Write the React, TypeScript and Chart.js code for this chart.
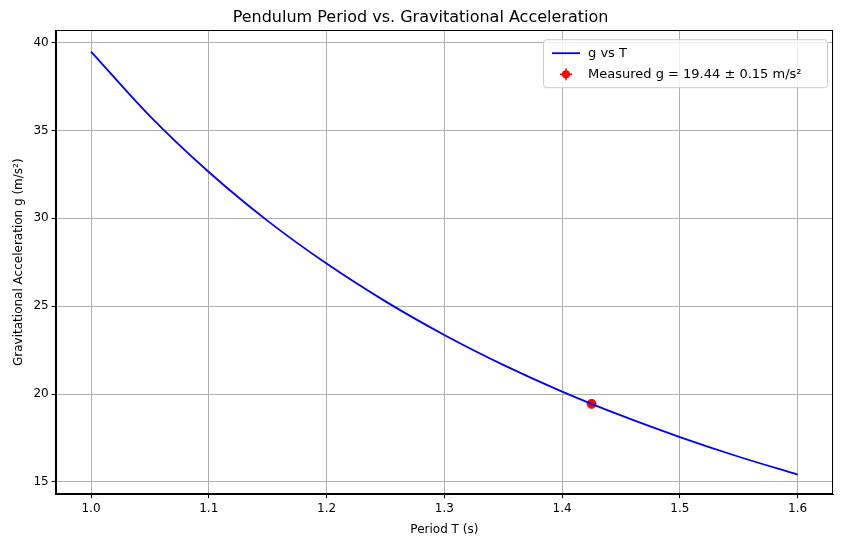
import React, { useEffect, useRef } from "react";
import { Chart, registerables } from "chart.js";
Chart.register(...registerables);

const periods = [1.0, 1.05, 1.1, 1.15, 1.2, 1.25, 1.3, 1.35, 1.4, 1.45, 1.5, 1.55, 1.6];
const gValues = [39.48, 35.81, 32.63, 29.85, 27.42, 25.27, 23.36, 21.66, 20.14, 18.78, 17.55, 16.43, 15.42];
const measuredT = [1.425];
const measuredG = [19.44];
const xTicks = [1.0, 1.1, 1.2, 1.3, 1.4, 1.5, 1.6];
const yTicks = [15, 20, 25, 30, 35, 40];

const FONT = "DejaVu Sans";

const legendPlugin = {
  id: "mplLegend",
  afterDraw(chart: any) {
    const { ctx, chartArea } = chart;
    ctx.save();
    ctx.strokeStyle = "#000";
    ctx.lineWidth = 1;
    ctx.strokeRect(Math.round(chartArea.left) + 0.5, Math.round(chartArea.top) + 0.5,
      Math.round(chartArea.right - chartArea.left) - 1, Math.round(chartArea.bottom - chartArea.top) - 1);
    const w = 284, h = 48;
    const x = chartArea.right - w - 6, y = chartArea.top + 9;
    ctx.fillStyle = "rgba(255,255,255,0.8)";
    ctx.strokeStyle = "#cccccc";
    ctx.beginPath();
    ctx.roundRect(x + 0.5, y + 0.5, w, h, 3);
    ctx.fill();
    ctx.stroke();
    ctx.strokeStyle = "blue";
    ctx.lineWidth = 1.8;
    ctx.beginPath();
    ctx.moveTo(x + 9, y + 14);
    ctx.lineTo(x + 37, y + 14);
    ctx.stroke();
    ctx.fillStyle = "red";
    ctx.strokeStyle = "red";
    ctx.beginPath();
    ctx.arc(x + 23, y + 35, 4, 0, Math.PI * 2);
    ctx.fill();
    ctx.lineWidth = 1.5;
    ctx.beginPath();
    ctx.moveTo(x + 23, y + 29); ctx.lineTo(x + 23, y + 41);
    ctx.moveTo(x + 17, y + 35); ctx.lineTo(x + 29, y + 35);
    ctx.stroke();
    ctx.fillStyle = "#000";
    ctx.font = `13px '${FONT}'`;
    ctx.textBaseline = "middle";
    ctx.fillText("g vs T", x + 45, y + 14);
    ctx.fillText("Measured g = 19.44 ± 0.15 m/s²", x + 45, y + 35);
    ctx.restore();
  },
};

export default function App() {
  const ref = useRef<HTMLCanvasElement>(null);
  useEffect(() => {
    document.body.style.margin = "0";
    const chart = new Chart(ref.current!, {
      type: "line",
      data: {
        datasets: [
          {
            data: periods.map((t, i) => ({ x: t, y: gValues[i] })),
            borderColor: "blue",
            borderWidth: 1.8,
            pointRadius: 0,
            cubicInterpolationMode: "monotone",
          },
          {
            data: measuredT.map((t, i) => ({ x: t, y: measuredG[i] })),
            borderColor: "red",
            backgroundColor: "red",
            showLine: false,
            pointRadius: 4.5,
          },
        ],
      },
      options: {
        responsive: false,
        animation: false,
        layout: { padding: { left: 8, right: 8, top: 0, bottom: 6 } },
        plugins: {
          legend: { display: false },
          tooltip: { enabled: false },
          title: {
            display: true,
            text: "Pendulum Period vs. Gravitational Acceleration",
            color: "#000",
            font: { family: FONT, size: 16, weight: "normal" },
            padding: { top: 8, bottom: 3 },
          },
        },
        scales: {
          x: {
            type: "linear",
            min: 0.97,
            max: 1.63,
            afterBuildTicks: (s: any) => { s.ticks = xTicks.map((v) => ({ value: v })); },
            ticks: { color: "#000", font: { family: FONT, size: 12 }, callback: (v: any) => Number(v).toFixed(1), maxRotation: 0 },
            grid: { color: "#b0b0b0", tickColor: "#000", tickLength: 4 },
            border: { color: "#000" },
            title: { display: true, text: "Period T (s)", color: "#000", font: { family: FONT, size: 12 } },
          },
          y: {
            min: 14.3,
            max: 40.7,
            afterBuildTicks: (s: any) => { s.ticks = yTicks.map((v) => ({ value: v })); },
            ticks: { color: "#000", font: { family: FONT, size: 12 } },
            grid: { color: "#b0b0b0", tickColor: "#000", tickLength: 4 },
            border: { color: "#000" },
            title: { display: true, text: "Gravitational Acceleration g (m/s²)", color: "#000", font: { family: FONT, size: 12 } },
          },
        },
      },
      plugins: [legendPlugin],
    } as any);
    return () => chart.destroy();
  }, []);
  return <canvas ref={ref} width={841} height={547} style={{ display: "block" }} />;
}
